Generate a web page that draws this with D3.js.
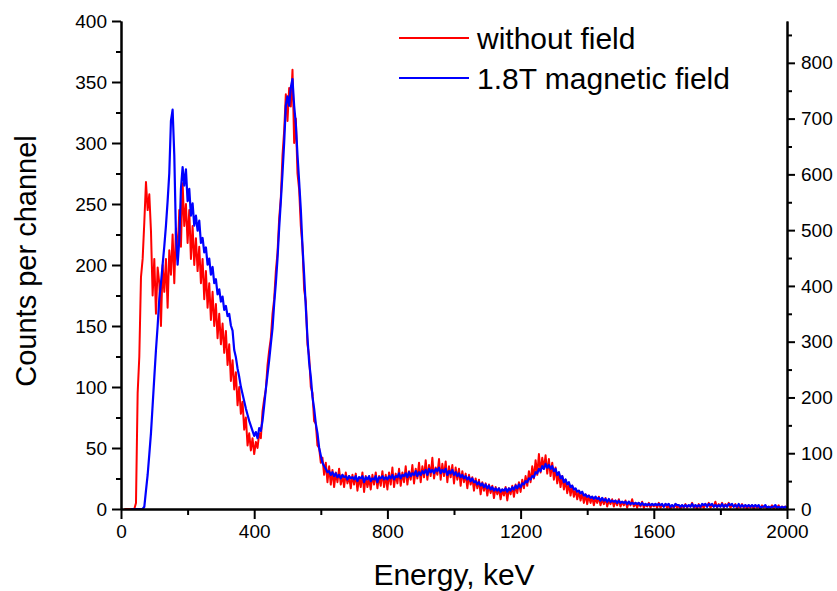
<!DOCTYPE html>
<html>
<head>
<meta charset="utf-8">
<script src="https://cdn.jsdelivr.net/npm/d3@7/dist/d3.min.js"></script>
<style>
  html, body { margin: 0; padding: 0; background: #fff; }
  svg { display: block; }
  text { font-family: "Liberation Sans", Arial, sans-serif; fill: #000; }
</style>
</head>
<body>
<svg id="chart" width="837" height="591"></svg>
<script>
// Energy of each channel (keV), 5 keV per channel
const energy = d3.range(0, 2001, 5);

// Counts per channel without field (left axis)
const redCounts = [null,null,0,0,0,0,0,0,0,5,95,125,190,205,235,268,245,258,228,175,
205,160,198,185,150,200,178,205,165,212,192,225,185,230,205,245,215,267,232,250,
218,245,205,232,200,222,195,215,185,205,172,195,165,185,155,178,150,168,140,160,
135,152,128,146,118,135,105,122,98,112,85,100,78,88,65,75,52,62,48,58,
45,55,50,62,58,80,90,98,118,130,140,160,172,195,210,238,255,290,310,340,
318,345,330,360,300,320,275,262,232,215,180,170,135,125,100,95,72,70,52,50,
38,42,28,38,22,35,20,32,18,30,22,33,20,28,18,30,21,27,17,28,
20,29,15,26,18,30,14,27,18,25,16,28,20,30,17,27,19,31,18,28,
16,30,20,34,18,29,21,33,19,30,22,35,20,31,24,36,21,33,25,38,
22,35,26,40,24,36,27,42,25,34,28,41,24,37,27,39,22,35,26,36,
21,34,24,33,19,31,22,29,17,28,20,26,15,25,17,24,12,22,15,21,
11,20,13,19,9,18,12,17,8,16,11,18,7,17,12,19,10,20,13,22,
14,24,17,27,19,31,22,35,25,40,28,45,30,42,33,44,29,41,27,38,
24,34,21,30,18,27,16,24,13,21,11,19,10,16,8,15,7,13,5,12,
4,11,5,10,3,9,5,10,3,8,4,9,2,7,4,8,2,7,3,8,
2,6,3,7,1,6,3,8,2,5,1,5,2,6,1,4,2,5,1,4,
2,4,1,5,1,3,2,4,1,3,0,3,1,4,1,3,0,3,1,4,
1,3,2,5,1,3,0,4,1,3,1,4,2,5,1,3,2,6,1,4,
2,5,1,4,2,5,1,3,2,4,0,3,1,4,1,3,0,3,1,3,
0,3,1,2,0,3,1,2,0,2,1,3,0,2,1,3,0,2,1,2,1];

// Counts per channel with 1.8T magnetic field (right axis)
const blueCounts = [null,null,null,null,null,null,0,0,0,0,0,0,0,0,4,33,61,98,136,186,
236,285,328,377,405,438,471,508,552,602,696,716,635,493,438,482,574,613,580,609,
552,574,526,548,508,526,499,517,477,486,460,469,438,449,420,434,405,412,385,394,
372,381,357,364,346,350,329,320,285,272,252,237,219,206,193,180,169,158,149,140,
131,138,127,145,140,158,186,215,241,267,296,324,368,405,449,504,552,602,657,723,
740,723,756,771,723,690,635,587,537,471,420,361,307,263,237,201,180,153,136,110,
96,83,77,72,66,68,61,66,59,64,57,61,55,61,57,59,53,59,55,57,
53,59,50,57,55,59,48,57,53,59,50,55,53,59,48,57,55,59,53,57,
53,59,55,61,53,59,57,64,55,61,59,64,57,66,59,64,61,68,59,66,
61,68,64,70,61,72,66,70,64,72,68,74,64,70,66,72,61,68,64,70,
61,66,59,64,57,61,55,59,53,57,50,55,48,50,44,48,42,46,39,44,
37,42,35,39,33,37,33,37,31,35,33,37,31,37,33,39,35,42,37,44,
39,46,44,50,48,55,53,59,57,66,64,72,68,77,72,81,74,79,72,77,
68,72,61,66,55,59,48,53,44,48,39,42,35,37,31,33,28,31,24,26,
22,24,20,22,18,22,18,20,15,20,15,18,13,18,13,15,13,15,11,15,
11,13,11,13,9,13,9,11,9,11,9,11,7,11,7,9,7,9,7,9,
7,9,7,9,7,9,4,9,7,9,4,7,4,9,7,7,4,7,4,7,
4,7,4,9,4,7,4,7,4,9,7,9,4,9,7,9,4,7,4,7,
4,9,4,7,4,9,7,9,4,7,4,9,4,7,4,7,4,7,4,7,
4,7,4,7,2,4,4,7,2,4,2,4,4,7,2,4,2,4,2,4,2];

const seriesNames = ["without field", "1.8T magnetic field"];
const seriesColors = ["#ff0000", "#0000ff"];

const xTicks = [0, 400, 800, 1200, 1600, 2000];
const xMinorTicks = [200, 600, 1000, 1400, 1800];
const yLeftTicks = [0, 50, 100, 150, 200, 250, 300, 350, 400];
const yLeftMinorTicks = [25, 75, 125, 175, 225, 275, 325, 375];
const yRightTicks = [0, 100, 200, 300, 400, 500, 600, 700, 800];
const yRightMinorTicks = [50, 150, 250, 350, 450, 550, 650, 750, 850];

const svg = d3.select("#chart");
const L = 121, R = 787, T = 21, B = 509;

const x = d3.scaleLinear().domain([0, 2000]).range([L, R]);
const yL = d3.scaleLinear().domain([0, 400]).range([B, T]);
const yR = d3.scaleLinear().domain([0, 875]).range([B, T]);

const redData = energy.map((e, i) => [e, redCounts[i]]);
const blueData = energy.map((e, i) => [e, blueCounts[i]]);

const lineL = d3.line().defined(d => d[1] != null).x(d => x(d[0])).y(d => yL(d[1]));
const lineR = d3.line().defined(d => d[1] != null).x(d => x(d[0])).y(d => yR(d[1]));

svg.append("path").datum(redData).attr("d", lineL)
  .attr("fill", "none").attr("stroke", seriesColors[0]).attr("stroke-width", 2)
  .attr("stroke-linejoin", "round");
svg.append("path").datum(blueData).attr("d", lineR)
  .attr("fill", "none").attr("stroke", seriesColors[1]).attr("stroke-width", 2.2)
  .attr("stroke-linejoin", "round");

function styleAxis(g) {
  g.attr("font-family", null).attr("font-size", null);
  g.selectAll("path.domain").attr("stroke", "#000").attr("stroke-width", 2);
  g.selectAll(".tick line").attr("stroke", "#000").attr("stroke-width", 2);
  g.selectAll(".tick text").style("font-size", "19px")
    .style("font-family", '"Liberation Sans", Arial, sans-serif').attr("fill", "#000");
}

// Bottom axis
svg.append("g").attr("transform", `translate(0,${B})`)
  .call(d3.axisBottom(x).tickValues(xMinorTicks).tickSize(6).tickFormat("").tickSizeOuter(0))
  .call(styleAxis);
svg.append("g").attr("transform", `translate(0,${B})`)
  .call(d3.axisBottom(x).tickValues(xTicks).tickSize(10).tickPadding(6).tickFormat(d3.format("d")).tickSizeOuter(0))
  .call(styleAxis);

// Left axis
svg.append("g").attr("transform", `translate(${L},0)`)
  .call(d3.axisLeft(yL).tickValues(yLeftMinorTicks).tickSize(5).tickFormat("").tickSizeOuter(0))
  .call(styleAxis);
svg.append("g").attr("transform", `translate(${L},0)`)
  .call(d3.axisLeft(yL).tickValues(yLeftTicks).tickSize(9).tickPadding(5).tickFormat(d3.format("d")).tickSizeOuter(0))
  .call(styleAxis);

// Right axis
svg.append("g").attr("transform", `translate(${R},0)`)
  .call(d3.axisRight(yR).tickValues(yRightMinorTicks).tickSize(5).tickFormat("").tickSizeOuter(0))
  .call(styleAxis);
svg.append("g").attr("transform", `translate(${R},0)`)
  .call(d3.axisRight(yR).tickValues(yRightTicks).tickSize(8).tickPadding(6).tickFormat(d3.format("d")).tickSizeOuter(0))
  .call(styleAxis);

// Axis titles
svg.append("text").attr("x", (L + R) / 2).attr("y", 585)
  .attr("text-anchor", "middle").style("font-size", "30px").text("Energy, keV");
svg.append("text").attr("transform", `translate(36,261) rotate(-90)`)
  .attr("text-anchor", "middle").style("font-size", "29px").text("Counts per channel");

// Legend
const legY = [38, 78];
seriesNames.forEach((name, i) => {
  svg.append("line").attr("x1", 399).attr("x2", 469).attr("y1", legY[i]).attr("y2", legY[i])
    .attr("stroke", seriesColors[i]).attr("stroke-width", 2);
  svg.append("text").attr("x", 477).attr("y", legY[i] + 11)
    .style("font-size", "30px").text(name);
});
</script>
</body>
</html>
